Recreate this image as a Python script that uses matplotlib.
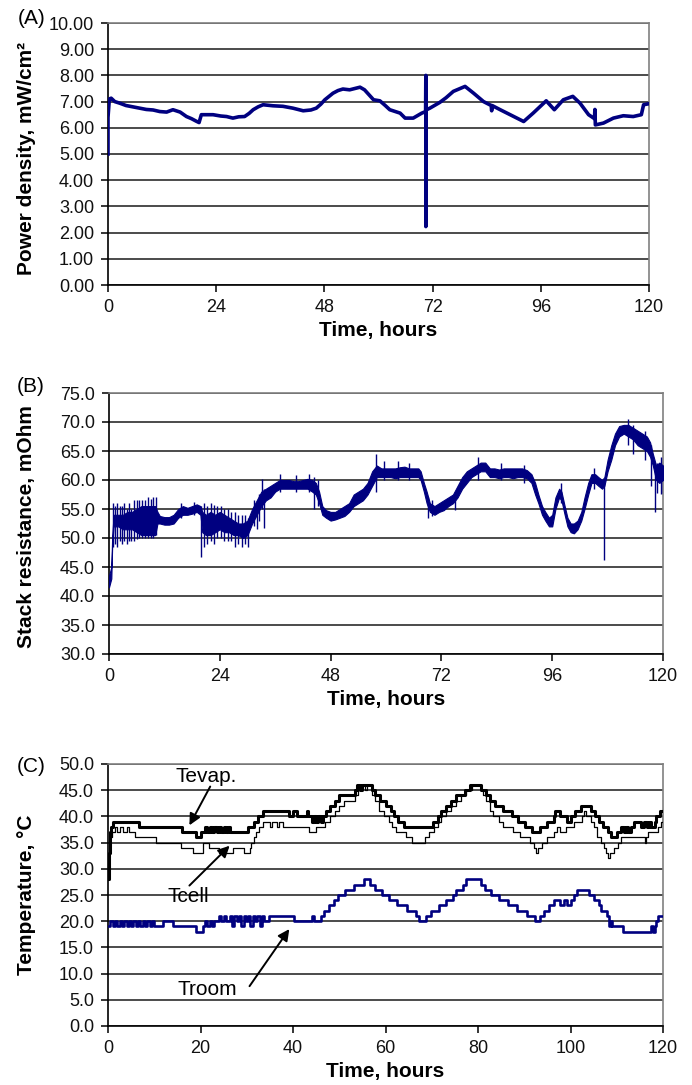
import matplotlib
matplotlib.use("Agg")
import matplotlib.pyplot as plt
from matplotlib.ticker import MultipleLocator, FormatStrFormatter

plt.rcParams['font.family'] = ['Liberation Sans', 'DejaVu Sans']

# ---------------- Data ----------------
# (A) power density
a_time = [0.0, 0.0, 0.3, 0.7, 1.5, 2.6, 4.0, 5.5, 7.0, 8.5, 10.0, 11.5, 13.0, 14.4, 16.0, 17.4,
          18.5, 19.6, 20.2, 20.7, 22.0, 23.3, 25.0, 26.3, 27.7, 29.0, 30.3, 31.3, 32.2, 33.3,
          34.4, 36.6, 38.8, 41.0, 43.3, 45.0, 46.2, 47.2, 48.1, 49.9, 51.0, 52.1, 53.6, 55.9,
          56.9, 58.9, 60.3, 61.5, 62.5, 64.8, 65.9, 67.7, 69.6, 70.45, 70.5, 70.5, 70.55, 71.4,
          73.6, 75.0, 76.6, 79.2, 81.1, 83.3, 85.0, 85.1, 85.2, 87.0, 89.2, 92.2, 94.3, 97.2,
          99.0, 101.0, 103.1, 104.7, 106.6, 107.9, 108.0, 108.1, 109.9, 112.1, 114.3, 116.5,
          118.3, 118.8, 120.0]
a_power = [5.0, 6.4, 7.1, 7.13, 7.0, 6.94, 6.85, 6.8, 6.75, 6.7, 6.68, 6.62, 6.6, 6.69, 6.6, 6.43,
           6.35, 6.25, 6.2, 6.5, 6.5, 6.5, 6.45, 6.43, 6.37, 6.42, 6.43, 6.55, 6.69, 6.8,
           6.88, 6.84, 6.82, 6.75, 6.65, 6.68, 6.75, 6.9, 7.07, 7.32, 7.42, 7.48, 7.45, 7.55,
           7.45, 7.07, 7.03, 6.85, 6.69, 6.56, 6.37, 6.37, 6.56, 6.62, 8.0, 2.23, 6.68, 6.75,
           6.97, 7.15, 7.39, 7.58, 7.32, 7.0, 6.85, 6.65, 6.85, 6.69, 6.5, 6.24, 6.56, 7.03,
           6.69, 7.07, 7.2, 6.94, 6.5, 6.35, 6.7, 6.11, 6.18, 6.37, 6.46, 6.43,
           6.5, 6.88, 6.92]

# (B) stack resistance: dense core band (time, low, high) and isolated spikes
b_time = [0.0, 0.5, 0.7, 1.0, 2, 3, 4, 5, 6, 7, 8, 9, 10, 10.5, 11, 12, 13, 14, 15, 16, 17, 18, 19,
          19.8, 20.2, 21, 22, 23, 24, 25, 26, 27, 28, 29, 30, 30.5, 31, 32, 33, 34, 35, 36, 37,
          38, 39, 40, 41, 42, 43, 44, 44.8, 45.5, 46.2, 47, 48, 49, 50, 51, 52, 53, 54, 55, 56,
          57, 58, 59, 60, 61, 62, 63, 64, 65, 66, 67, 67.5, 68.2, 68.8, 69.5, 70.5, 71.5, 72.5,
          73.5, 74.5, 75.5, 76.5, 77.5, 78.5, 79.5, 80.5, 81.5, 82.5, 83.5, 84.5, 85.5, 86.5,
          87.5, 88.5, 89.5, 90.5, 91.5, 92.3, 93, 93.8, 94.5, 95.3, 96, 96.7, 97.5, 98, 98.7,
          99.3, 100, 100.7, 101.5, 102.3, 103, 103.8, 104.5, 105.3, 106, 106.8, 107.3, 108,
          108.8, 109.6, 110.5, 111.5, 112.5, 113.5, 114.5, 115.5, 116.5, 117.2, 117.8, 118.5,
          119.2, 120]
b_low = [41.5, 43, 49, 52, 52, 51.5, 51.5, 51.5, 51, 50.5, 50.5, 50.5, 50.5, 52.5, 52.5, 52.3,
         52.3, 52.5, 53.5, 54, 54, 54.2, 54.5, 54, 51, 50.5, 50.5, 51, 51.5, 51, 51, 50.5, 50.5,
         50, 50.5, 51.5, 52.5, 54, 55.5, 56.5, 57, 58, 58.5, 58.5, 58.5, 58.5, 58.5, 58.5, 58.5,
         58, 57.5, 56, 54, 53.5, 53, 53.2, 53.5, 53.8, 54.5, 55.5, 56, 56.5, 57.5, 59, 60.5,
         60.5, 60.5, 60.5, 60.3, 60.5, 60.5, 60.5, 60.5, 60.5, 60, 58, 56, 54.5, 54, 54.5,
         54.8, 55.5, 56, 57, 58.5, 59.5, 60.5, 61, 61.5, 61.5, 60.5, 60.5, 60.3, 60.5, 60.5,
         60.3, 60.5, 60.5, 60.3, 59.5, 57.5, 56, 54, 53, 52, 52, 55, 57, 56.5, 54, 52, 51,
         50.8, 51.5, 53, 55, 57.5, 59.5, 59.5, 59, 58.5, 59, 61.5, 63.5, 66, 67.5, 68, 67.5,
         67, 66, 65.5, 65, 64, 62.5, 60, 59.5, 60]
b_high = [43.5, 45, 50.5, 54, 54, 54, 54.5, 54.5, 55, 55.5, 55.5, 55.5, 55.5, 54.5, 53.8, 53.6,
          53.6, 54, 55, 55.5, 55.2, 55.5, 55.8, 55.5, 54.5, 54, 54.5, 54, 54.5, 54, 53.5, 53,
          52.5, 52.5, 53, 54, 55, 56.5, 58, 58.5, 59, 59.5, 60, 60, 60, 59.8, 59.8, 60, 60.2,
          60, 59.5, 58, 55.5, 54.8, 54.5, 54.5, 55, 55.5, 56, 57.5, 58, 58.5, 59.5, 61.5, 62.5,
          62, 62, 62, 62, 62.2, 62.3, 62, 62, 62, 61.5, 59.5, 58, 56, 55.5, 56, 56.5, 57, 57.5,
          59, 60.5, 61.5, 62, 62.5, 63, 63, 62, 62, 61.8, 62, 62, 62, 62, 62, 61.7, 61, 59.5,
          57.5, 55.5, 54.5, 53.5, 54, 57, 58.5, 58, 55.5, 53.5, 52.5, 52.5, 53, 54.5, 57, 59.5,
          61, 61, 60.5, 60, 60.5, 63.5, 66, 68, 69.3, 69.5, 69.5, 69, 68.5, 68, 67.5, 66.5,
          64.5, 62.5, 63, 62.5]
b_spike_t = [0.8, 1.3, 1.8, 2.3, 2.8, 3.3, 3.8, 4.3, 4.8, 5.5, 6.0, 6.6, 7.2, 7.8, 8.4, 9.0, 9.6,
             10.1, 15.5, 18.5, 20.0, 20.6, 21.3, 22.0, 22.7, 23.5, 24.2, 25.0, 25.8, 26.5, 27.3,
             28.0, 28.8, 29.5, 30.2, 31.5, 32.0, 32.5, 33.2, 33.5, 37.0, 40.5, 43.3, 44.3, 45.2,
             57.8, 59.5, 62.5, 65.0, 69.0, 70.0, 75.0, 80.0, 85.0, 90.0, 98.0, 105.0, 107.3,
             112.5, 113.5, 116.0, 117.5, 118.3, 118.8, 119.5, 119.9]
b_spike_lo = [48.5, 49, 48.5, 49.5, 49, 49.5, 49, 49.5, 49.5, 49.5, 49.8, 50, 50, 50, 50, 50, 50,
              50.5, 53.5, 54, 46.8, 48.5, 49, 49.5, 49, 50, 50, 49.5, 49.5, 49.5, 48.5,
              49, 48.5, 49, 48.5, 52, 51.5, 53, 55, 51.8, 58, 58, 58, 55, 55.5,
              58, 60, 60, 60, 53.5, 53.8, 54.8, 60, 60, 59.5, 56, 58.5, 46.2,
              66, 64.5, 63.5, 59, 54.5, 57.7, 57.5, 57.7]
b_spike_hi = [56, 55.5, 56, 55.5, 55.5, 56, 55, 56, 55, 56.5, 56.5, 56.5, 56.5, 56.5, 57, 56.8, 57,
              57, 56, 56.2, 55.5, 56, 55.5, 56, 55.7, 55.5, 55.5, 55, 55, 54.5, 54.5,
              54, 54, 54, 53.5, 56.5, 56, 57.5, 60.2, 58.5, 61, 60.8, 61, 60.5, 60,
              64.5, 63.3, 63.3, 63, 57, 56.5, 58, 64, 63, 62.5, 59.5, 62, 60,
              70.6, 69.5, 68.5, 66, 63, 63, 64, 62]

# (C) temperatures (step series: time of change, value after change)
tevap_t = [0.0, 0.3, 0.5, 0.7, 1.0, 6.8, 16.0, 19.0, 20.0, 21.0, 21.5, 22.0, 22.5, 23.0, 23.5,
           24.0, 24.5, 25.0, 25.5, 26.0, 26.3, 30.2, 31.5, 32.5, 33.5, 39.2, 40.0, 40.8, 43.0,
           43.3, 44.0, 44.5, 45.0, 45.5, 46.0, 46.5, 47.2, 48.0, 49.0, 50.0, 53.5, 53.8, 54.5,
           54.9, 57.1, 57.8, 58.9, 60.0, 61.1, 61.8, 62.6, 64.0, 70.2, 71.3, 72.0, 73.1, 74.2,
           75.3, 77.1, 78.2, 80.7, 81.8, 82.5, 83.6, 85.5, 87.3, 88.7, 90.2, 91.6, 93.5, 94.9,
           96.4, 96.7, 97.8, 99.3, 100.0, 101.0, 102.3, 104.5, 105.3, 106.2, 107.0, 108.0,
           108.7, 110.0, 111.0, 111.5, 112.0, 112.5, 113.0, 113.8, 115.3, 115.8, 116.5, 117.0,
           117.5, 118.2, 118.5, 119.3, 120.0]
tevap_v = [28, 33, 37, 38, 39, 38, 37, 36, 37, 38, 37, 38, 37, 38, 37,
           38, 37, 38, 37, 38, 37, 38, 39, 40, 41, 40, 41, 40, 41,
           40, 39, 40, 39, 40, 39, 40, 41, 42, 43, 44, 45, 46, 45,
           46, 45, 44, 43, 42, 41, 40, 39, 38, 39, 40, 41, 42, 43,
           44, 45, 46, 45, 44, 43, 42, 41, 40, 39, 38, 37, 38, 39,
           40, 41, 40, 39, 40, 41, 42, 41, 40, 39, 38, 37,
           36, 37, 38, 37, 38, 37, 38, 39, 38, 39, 38, 39,
           38, 39, 40, 41, 41]
tcell_t = [0.0, 0.3, 0.5, 0.8, 1.5, 2.0, 2.7, 3.2, 4.2, 4.5, 5.8, 10.4, 15.8, 18.3, 20.5, 21.8,
           24.1, 27.0, 29.5, 30.6, 30.9, 31.5, 32.0, 32.7, 33.5, 35.0, 35.5, 36.5, 37.0, 37.8,
           43.5, 45.0, 47.0, 48.0, 49.0, 50.0, 51.0, 53.5, 54.0, 54.5, 55.5, 56.0, 57.1, 57.8,
           58.5, 59.6, 60.7, 61.5, 62.2, 64.4, 65.8, 68.6, 69.5, 70.5, 71.3, 72.0, 73.1, 74.2,
           75.3, 76.4, 77.5, 78.6, 80.7, 81.1, 81.8, 82.5, 83.2, 84.5, 85.5, 87.6, 89.1, 91.3,
           92.0, 92.6, 93.0, 93.8, 94.9, 96.4, 97.1, 97.8, 99.0, 100.7, 102.5, 103.0, 103.3,
           104.4, 105.1, 105.8, 106.5, 107.2, 107.6, 108.2, 108.5, 109.5, 110.2, 110.9, 116.0,
           116.3, 116.7, 119.0, 119.6, 120.0]
tcell_v = [28, 33, 36, 37, 38, 37, 38, 37, 38, 37, 36, 35, 34, 33, 35, 34,
           33, 34, 33, 34, 35, 36, 37, 38, 39, 38, 39, 38, 39, 38,
           37, 38, 39, 40, 41, 42, 43, 44, 45, 46, 45, 46, 44, 43,
           41, 40, 39, 38, 37, 36, 35, 36, 37, 38, 39, 40, 41, 42,
           43, 44, 45, 46, 45, 44, 43, 41, 40, 39, 38, 37, 36, 35,
           34, 33, 34, 35, 36, 37, 38, 37, 38, 39, 40, 41, 40,
           39, 38, 36, 35, 34, 33, 32, 33, 34, 35, 36, 35,
           36, 37, 38, 39, 40]
troom_t = [0.0, 0.5, 1.0, 1.5, 2.0, 2.5, 3.0, 3.5, 4.0, 4.5, 5.0, 5.5, 6.0, 6.5, 7.0, 7.5, 8.0,
           8.5, 9.0, 9.5, 10.0, 11.9, 14.0, 19.0, 20.5, 21.0, 21.5, 22.0, 22.5, 23.0, 24.1,
           24.5, 25.0, 25.5, 26.3, 26.8, 27.2, 27.8, 28.3, 28.8, 29.3, 29.8, 30.3, 30.8, 31.3,
           31.8, 32.3, 32.8, 33.3, 33.8, 34.9, 40.3, 44.0, 44.5, 46.0, 46.8, 47.8, 48.8, 49.8,
           51.3, 53.1, 55.3, 56.7, 57.8, 59.3, 60.7, 62.5, 64.7, 66.5, 67.3, 68.7, 69.8, 71.6,
           73.1, 74.5, 75.3, 76.7, 77.5, 80.7, 81.5, 82.8, 84.5, 86.5, 88.5, 90.5, 92.4, 93.3,
           94.3, 95.3, 96.4, 97.8, 98.5, 99.3, 100.0, 100.7, 101.5, 104.0, 105.1, 106.2, 106.7,
           107.8, 108.4, 108.7, 109.0, 111.3, 117.5, 117.8, 118.2, 118.5, 119.0, 120.0]
troom_v = [19, 20, 19, 20, 19, 20, 19, 20, 19, 20, 19, 20, 19, 20, 19, 20, 19,
           20, 19, 20, 19, 20, 19, 18, 19, 20, 19, 20, 19, 20, 21,
           20, 21, 20, 21, 19, 21, 20, 21, 19, 21, 20, 21, 19, 21,
           20, 21, 19, 21, 20, 21, 20, 21, 20, 21, 22, 23, 24, 25,
           26, 27, 28, 27, 26, 25, 24, 23, 22, 21, 20, 21, 22, 23,
           24, 25, 26, 27, 28, 27, 26, 25, 24, 23, 22, 21, 20, 21,
           22, 23, 24, 23, 24, 23, 24, 25, 26, 25, 24, 23, 22,
           21, 19, 20, 19, 18, 19, 18, 19, 20, 21, 21]

ticks_ab = [0, 24, 48, 72, 96, 120]
ticks_c = [0, 20, 40, 60, 80, 100, 120]

# annotation labels in panel C: text, text position, arrow tail, arrow head
ann_text = ['Tevap.', 'Tcell', 'Troom']
ann_text_xy = [(21.3, 47.7), (17.3, 24.7), (21.4, 6.9)]
ann_tail = [(22.1, 45.7), (17.6, 26.8), (30.6, 7.6)]
ann_head = [(17.6, 38.3), (26.3, 34.4), (39.2, 18.5)]

# ---------------- Figure ----------------
W, H = 692, 1085
fig = plt.figure(figsize=(W / 100, H / 100), dpi=100)
NAVY = '#000080'


def add_axes_px(left, right, top, bottom):
    return fig.add_axes([left / W, (H - bottom) / H, (right - left) / W, (bottom - top) / H])


def style(ax, ylim, ystep, yfmt, xticks):
    ax.set_xlim(0, 120)
    ax.set_ylim(*ylim)
    ax.set_xticks(xticks)
    ax.yaxis.set_major_locator(MultipleLocator(ystep))
    ax.yaxis.set_major_formatter(FormatStrFormatter(yfmt))
    ax.grid(axis='y', color='#1a1a1a', lw=1.1, zorder=0)
    ax.set_axisbelow(True)
    for s in ('left', 'bottom'):
        ax.spines[s].set_color('black')
        ax.spines[s].set_linewidth(1.2)
    for s in ('right', 'top'):
        ax.spines[s].set_color('#808080')
        ax.spines[s].set_linewidth(1.2)
    ax.tick_params(axis='both', direction='out', length=5, width=1.1, labelsize=13,
                   pad=5, colors='black', labelcolor='#111111')
    ax.set_xlabel('Time, hours', fontsize=15, fontweight='bold', labelpad=4)


def ylabel(text, ycenter):
    fig.text(27 / W, (H - ycenter) / H, text, rotation=90, ha='center', va='center',
             fontsize=15, fontweight='bold')


def panel(text, x, y):
    fig.text(x / W, (H - y) / H, text, ha='center', va='center', fontsize=15)


# Panel A
axA = add_axes_px(108, 649, 23, 285)
axA.plot(a_time, a_power, color=NAVY, lw=2.6, zorder=3, solid_joinstyle='round')
style(axA, (0, 10), 1, '%.2f', ticks_ab)
ylabel('Power density, mW/cm²', 158)
panel('(A)', 32, 18)

# Panel B
axB = add_axes_px(109, 663, 393, 654)
axB.fill_between(b_time, b_low, b_high, color=NAVY, lw=0.8, edgecolor=NAVY, zorder=3)
axB.vlines(b_spike_t, b_spike_lo, b_spike_hi, color=NAVY, lw=1.0, zorder=3)
style(axB, (30, 75), 5, '%.1f', ticks_ab)
ylabel('Stack resistance, mOhm', 527)
panel('(B)', 31, 386)

# Panel C
axC = add_axes_px(108, 663, 764, 1026)
axC.plot(tcell_t, tcell_v, color='black', lw=0.9, drawstyle='steps-post', zorder=3)
axC.plot(tevap_t, tevap_v, color='black', lw=2.2, drawstyle='steps-post', zorder=4)
axC.plot(troom_t, troom_v, color=NAVY, lw=1.9, drawstyle='steps-post', zorder=4)
style(axC, (0, 50), 5, '%.1f', ticks_c)
ylabel('Temperature, °C', 895)
panel('(C)', 31, 767)

for txt, txy, tail, head in zip(ann_text, ann_text_xy, ann_tail, ann_head):
    axC.text(txy[0], txy[1], txt, fontsize=15, ha='center', va='center', zorder=6)
    axC.annotate('', xy=head, xytext=tail,
                 arrowprops=dict(arrowstyle='-|>', color='black', lw=1.4,
                                 mutation_scale=17, shrinkA=0, shrinkB=0), zorder=6)

fig.savefig('out.png', dpi=100)
